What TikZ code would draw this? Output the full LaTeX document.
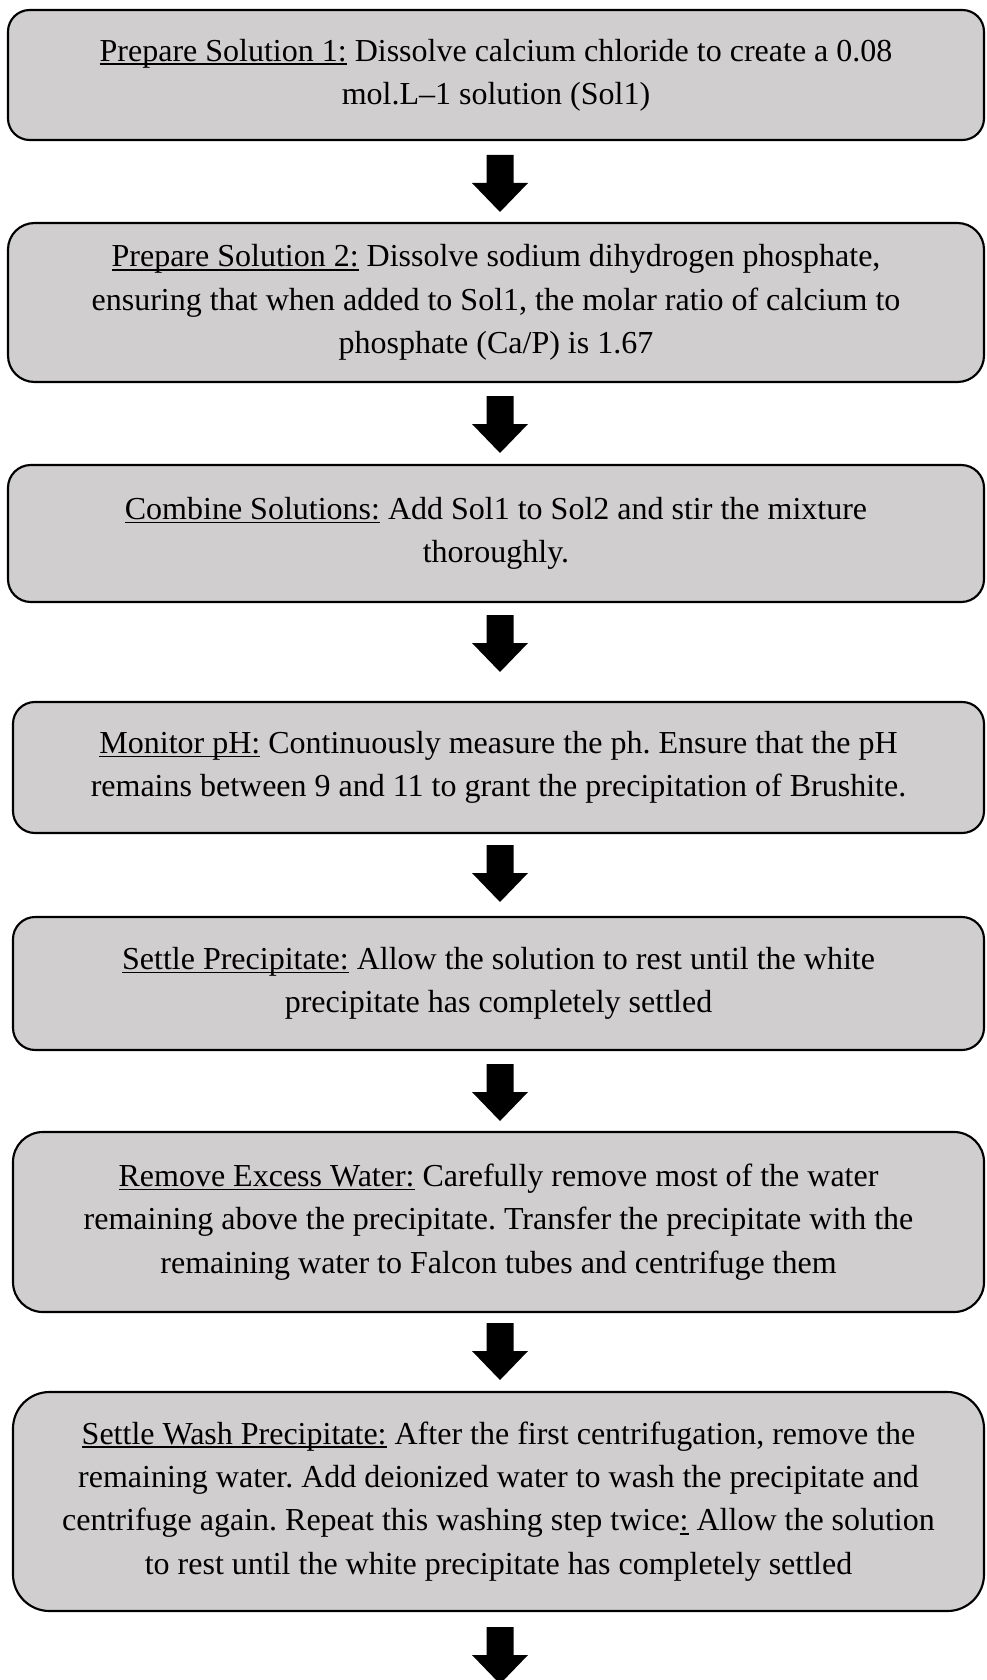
\documentclass[tikz,border=0pt]{standalone}
\usepackage{fontspec}
\setmainfont{Liberation Serif}
\frenchspacing
\newcommand{\ulx}[1]{\leavevmode\setbox0\hbox{#1}\rlap{\rule[-0.12em]{\wd0}{0.055em}}\box0\relax}
\definecolor{boxgray}{HTML}{D0CECE}
\tikzset{
  stepbox/.style={draw=black, line width=1.6pt, fill=boxgray, inner sep=0pt, align=center,
    font=\fontsize{24}{32.5}\selectfont\frenchspacing, text=black},
}
\newcommand{\blockarrow}[1]{%
  \fill[black] (#1) +(-13.5,0) -- +(13.5,0) -- +(13.5,28) -- +(28,28) -- +(0,57) -- +(-28,28) -- +(-13.5,28) -- cycle;}
\begin{document}
\begin{tikzpicture}[x=0.75pt, y=-0.75pt]
\useasboundingbox (0,0) rectangle (986,1680);
\node[stepbox, rounded corners=16.25pt, minimum width=732pt, minimum height=97.5pt] (b1) at (496,75)
 {\ulx{Prepare Solution 1:} Dissolve calcium chloride to create a 0.08\\ mol.L–1 solution (Sol1)};
\node[stepbox, rounded corners=19.9pt, minimum width=732pt, minimum height=119.25pt] (b2) at (496,302.5)
 {\ulx{Prepare Solution 2:} Dissolve sodium dihydrogen phosphate,\\ ensuring that when added to Sol1, the molar ratio of calcium to\\ phosphate (Ca/P) is 1.67};
\node[stepbox, rounded corners=17.1pt, minimum width=732pt, minimum height=102.75pt] (b3) at (496,533.5)
 {\ulx{Combine Solutions:} Add Sol1 to Sol2 and stir the mixture\\ thoroughly.};
\node[stepbox, rounded corners=16.4pt, minimum width=728.25pt, minimum height=98.25pt] (b4) at (498.5,767.5)
 {\ulx{Monitor pH:} Continuously measure the ph. Ensure that the pH\\ remains between 9 and 11 to grant the precipitation of Brushite.};
\node[stepbox, rounded corners=16.6pt, minimum width=728.25pt, minimum height=99.75pt] (b5) at (498.5,983.5)
 {\ulx{Settle Precipitate:} Allow the solution to rest until the white\\ precipitate has completely settled};
\node[stepbox, rounded corners=22.5pt, minimum width=728.25pt, minimum height=135pt] (b6) at (498.5,1222)
 {\ulx{Remove Excess Water:} Carefully remove most of the water\\ remaining above the precipitate. Transfer the precipitate with the\\ remaining water to Falcon tubes and centrifuge them};
\node[stepbox, rounded corners=27.4pt, minimum width=728.25pt, minimum height=164.25pt] (b7) at (498.5,1501.5)
 {\ulx{Settle Wash Precipitate:} After the first centrifugation, remove the\\ remaining water. Add deionized water to wash the precipitate and\\ centrifuge again. Repeat this washing step twice\ulx{:} Allow the solution\\ to rest until the white precipitate has completely settled};
\coordinate (a1) at (500,155);
\coordinate (a2) at (500,396);
\coordinate (a3) at (500,615);
\coordinate (a4) at (500,845);
\coordinate (a5) at (500,1064);
\coordinate (a6) at (500,1323);
\coordinate (a7) at (500,1627);
\blockarrow{a1}
\blockarrow{a2}
\blockarrow{a3}
\blockarrow{a4}
\blockarrow{a5}
\blockarrow{a6}
\blockarrow{a7}
\end{tikzpicture}
\end{document}
